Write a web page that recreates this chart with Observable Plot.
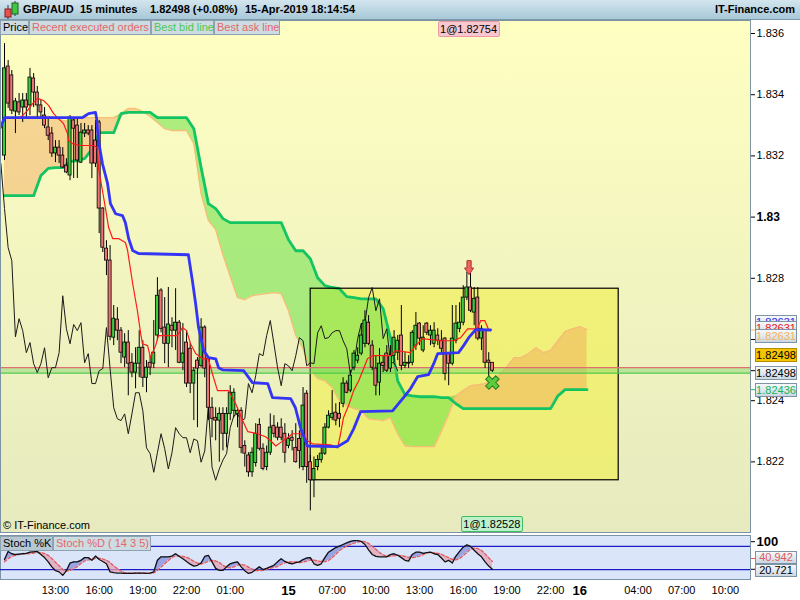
<!DOCTYPE html>
<html><head><meta charset="utf-8">
<script src="https://cdn.jsdelivr.net/npm/d3@7"></script>
<script src="https://cdn.jsdelivr.net/npm/@observablehq/plot@0.6"></script>
<style>
body{margin:0;width:800px;height:600px;overflow:hidden;background:#fff;font-family:"Liberation Sans",Arial,sans-serif;}
#wrap{position:relative;width:800px;height:600px;overflow:hidden;}
.abs{position:absolute;}
#header{left:0;top:0;width:800px;height:20px;background:linear-gradient(#d3e5ee,#a8c8d8);border-bottom:1px solid #7d98a8;box-sizing:border-box;font-weight:bold;font-size:11px;color:#000;}
#header span{position:absolute;top:3px;white-space:nowrap;}
#bg{left:0;top:20px;width:750px;height:512px;background:linear-gradient(#ffffc2,#e6eabe);}
.tab{position:absolute;top:20px;height:15px;box-sizing:border-box;border:1px solid #8ea3b0;background:#cddbe3;font-size:11px;line-height:13px;padding-left:2px;white-space:nowrap;}
.vbox{position:absolute;left:755px;width:42px;height:14px;box-sizing:border-box;border:1px solid #7d93a6;background:linear-gradient(#f7f9fc,#ccd7e3);font-size:11px;line-height:12px;text-align:center;white-space:nowrap;}
.olab{position:absolute;height:16px;box-sizing:border-box;font-size:11px;line-height:14px;text-align:center;border-radius:2px;white-space:nowrap;}
svg{position:absolute;}
</style></head>
<body><div id="wrap">
<div id="bg" class="abs"></div>
</div>
<script>
// ---------------- DATA ----------------
// 15-minute candles, GBP/AUD: [open, high, low, close]
const ohlc = [
[1.83201,1.83567,1.83185,1.83486],[1.83492,1.83512,1.83355,1.83371],[1.83463,1.83479,1.83335,1.83348],[1.83345,1.83388,1.83273,1.83378],[1.83375,1.83404,1.83332,1.83342],
[1.83358,1.83404,1.83309,1.83381],[1.83381,1.83404,1.83325,1.83358],[1.83365,1.83486,1.83332,1.83456],[1.83453,1.83469,1.83358,1.83407],[1.83407,1.83427,1.83325,1.83365],
[1.83365,1.83381,1.83322,1.83342],[1.83332,1.83358,1.83289,1.83299],[1.83293,1.83325,1.83250,1.83266],[1.83273,1.83293,1.83195,1.83208],[1.83208,1.83250,1.83178,1.83227],
[1.83227,1.83250,1.83175,1.83201],[1.83201,1.83227,1.83159,1.83162],[1.83168,1.83191,1.83142,1.83146],[1.83136,1.83332,1.83119,1.83325],[1.83316,1.83325,1.83126,1.83289],
[1.83299,1.83325,1.83126,1.83185],[1.83178,1.83306,1.83175,1.83276],[1.83273,1.83306,1.83260,1.83283],[1.83283,1.83299,1.83266,1.83273],[1.83283,1.83299,1.83126,1.83175],
[1.83250,1.83316,1.83162,1.83175],[1.83309,1.83316,1.82946,1.83028],[1.83028,1.83031,1.82884,1.82900],[1.82897,1.82923,1.82809,1.82858],[1.82858,1.82907,1.82596,1.82609],
[1.82606,1.82711,1.82580,1.82668],[1.82665,1.82704,1.82596,1.82629],[1.82629,1.82639,1.82521,1.82557],[1.82541,1.82619,1.82508,1.82590],[1.82590,1.82629,1.82416,1.82521],
[1.82524,1.82554,1.82475,1.82492],[1.82492,1.82573,1.82439,1.82521],[1.82521,1.82629,1.82475,1.82573],[1.82573,1.82596,1.82443,1.82475],[1.82475,1.82531,1.82426,1.82508],
[1.82524,1.82547,1.82482,1.82508],[1.82521,1.82662,1.82505,1.82557],[1.82613,1.82802,1.82596,1.82743],[1.82760,1.82766,1.82622,1.82635],[1.82639,1.82737,1.82521,1.82586],
[1.82586,1.82770,1.82508,1.82649],[1.82645,1.82671,1.82573,1.82629],[1.82629,1.82766,1.82564,1.82655],[1.82655,1.82662,1.82521,1.82524],[1.82524,1.82652,1.82498,1.82554],
[1.82590,1.82629,1.82443,1.82456],[1.82570,1.82586,1.82423,1.82456],[1.82456,1.82508,1.82335,1.82498],[1.82531,1.82541,1.82312,1.82505],[1.82514,1.82668,1.82508,1.82639],
[1.82639,1.82645,1.82475,1.82505],[1.82537,1.82541,1.82335,1.82377],[1.82377,1.82410,1.82279,1.82341],[1.82344,1.82377,1.82269,1.82335],[1.82335,1.82377,1.82199,1.82357],
[1.82357,1.82377,1.82236,1.82292],[1.82292,1.82377,1.82246,1.82357],[1.82357,1.82449,1.82335,1.82426],[1.82367,1.82439,1.82344,1.82426],[1.82357,1.82377,1.82312,1.82367],
[1.82367,1.82377,1.82227,1.82246],[1.82252,1.82269,1.82183,1.82227],[1.82221,1.82230,1.82150,1.82166],[1.82166,1.82246,1.82150,1.82230],[1.82196,1.82325,1.82183,1.82292],
[1.82321,1.82341,1.82236,1.82243],[1.82243,1.82259,1.82171,1.82177],[1.82183,1.82252,1.82171,1.82230],[1.82230,1.82357,1.82221,1.82312],[1.82318,1.82351,1.82279,1.82292],
[1.82312,1.82328,1.82269,1.82279],[1.82312,1.82341,1.82269,1.82279],[1.82292,1.82325,1.82196,1.82230],[1.82252,1.82292,1.82243,1.82275],[1.82279,1.82302,1.82236,1.82269],
[1.82246,1.82325,1.82196,1.82199],[1.82275,1.82302,1.82177,1.82236],[1.82183,1.82443,1.82171,1.82384],[1.82423,1.82433,1.82130,1.82183],[1.82199,1.82221,1.82040,1.82140],
[1.82140,1.82216,1.82083,1.82177],[1.82183,1.82221,1.82171,1.82206],[1.82206,1.82246,1.82196,1.82227],[1.82227,1.82325,1.82221,1.82312],[1.82312,1.82367,1.82308,1.82351],
[1.82344,1.82433,1.82335,1.82357],[1.82361,1.82390,1.82318,1.82335],[1.82357,1.82394,1.82312,1.82341],[1.82390,1.82475,1.82377,1.82456],[1.82456,1.82465,1.82423,1.82426],
[1.82433,1.82498,1.82426,1.82482],[1.82508,1.82564,1.82498,1.82554],[1.82531,1.82573,1.82521,1.82547],[1.82554,1.82652,1.82547,1.82613],[1.82586,1.82694,1.82573,1.82662],
[1.82655,1.82678,1.82580,1.82586],[1.82580,1.82596,1.82498,1.82508],[1.82505,1.82547,1.82416,1.82449],[1.82459,1.82570,1.82416,1.82521],[1.82524,1.82547,1.82492,1.82514],
[1.82554,1.82580,1.82492,1.82498],[1.82505,1.82580,1.82492,1.82547],[1.82547,1.82629,1.82524,1.82606],[1.82557,1.82613,1.82531,1.82596],[1.82613,1.82711,1.82498,1.82514],
[1.82514,1.82557,1.82505,1.82524],[1.82524,1.82547,1.82505,1.82521],[1.82524,1.82629,1.82514,1.82622],[1.82580,1.82688,1.82564,1.82645],[1.82652,1.82655,1.82580,1.82603],
[1.82564,1.82645,1.82557,1.82606],[1.82652,1.82655,1.82613,1.82622],[1.82613,1.82645,1.82580,1.82629],[1.82586,1.82655,1.82573,1.82629],[1.82613,1.82635,1.82580,1.82596],
[1.82596,1.82629,1.82557,1.82570],[1.82603,1.82606,1.82465,1.82488],[1.82554,1.82557,1.82449,1.82521],[1.82521,1.82711,1.82514,1.82603],[1.82596,1.82711,1.82586,1.82652],
[1.82635,1.82720,1.82622,1.82655],[1.82655,1.82776,1.82645,1.82737],[1.82737,1.82819,1.82727,1.82770],[1.82770,1.82825,1.82688,1.82694],[1.82688,1.82770,1.82645,1.82733],
[1.82737,1.82770,1.82596,1.82603],[1.82603,1.82645,1.82564,1.82635],[1.82629,1.82629,1.82505,1.82524],[1.82531,1.82557,1.82472,1.82524],[1.82524,1.82524,1.82492,1.82498]
];

// Tenkan-sen (red) vertices: [candle index, price]
const tenkan = [[0,1.83325],[4.4,1.83325],[6.3,1.83348],[7.7,1.83371],[9.1,1.83388],[10.7,1.83381],[12.1,1.83365],[13.5,1.83338],[14.8,1.83322],[16.2,1.83306],[17.3,1.83273],[17.6,1.83250],[18.7,1.83240],[20.9,1.83234],[24.5,1.83234],[25.5,1.83227],[25.8,1.83162],[26.9,1.83087],[27.7,1.83031],[28.6,1.82966],[29.7,1.82930],[31.3,1.82930],[33.2,1.82917],[33.8,1.82891],[35.2,1.82783],[36.5,1.82694],[37.4,1.82619],[37.9,1.82586],[39.3,1.82580],[40.1,1.82541],[41.5,1.82580],[42.3,1.82613],[47.5,1.82613],[48.9,1.82639],[50,1.82629],[51.1,1.82586],[52.5,1.82554],[54.4,1.82537],[56,1.82537],[57.1,1.82488],[58.5,1.82433],[61.5,1.82433],[63.5,1.82390],[65.4,1.82335],[66.8,1.82299],[69.5,1.82292],[71.7,1.82282],[73.1,1.82269],[74.5,1.82252],[75.8,1.82263],[77.7,1.82279],[79.1,1.82292],[81.3,1.82292],[83.2,1.82269],[84.6,1.82259],[89.6,1.82256],[91.5,1.82246],[92.3,1.82292],[93.1,1.82344],[94.5,1.82384],[95.9,1.82433],[97.3,1.82465],[98.4,1.82498],[99.7,1.82537],[101.1,1.82547],[106,1.82547],[107.4,1.82564],[111.5,1.82557],[112.9,1.82580],[114.8,1.82603],[119.8,1.82596],[123.4,1.82596],[125.3,1.82606],[127.2,1.82635],[129.9,1.82635],[130.8,1.82662],[131.9,1.82662],[133,1.82631]];

// Kijun-sen (blue) vertices
const kijun = [[-1.1,1.83293],[0,1.83325],[21.4,1.83325],[22.3,1.83332],[23.1,1.83338],[25,1.83342],[25.3,1.83322],[25.8,1.83250],[26.9,1.83175],[28.3,1.83110],[29.1,1.83044],[30.5,1.83011],[32.4,1.83005],[33.2,1.82982],[34.1,1.82930],[35.2,1.82891],[36.8,1.82881],[50.5,1.82877],[51.6,1.82793],[52.5,1.82717],[53.3,1.82639],[54.7,1.82564],[56,1.82541],[58,1.82537],[58.8,1.82508],[59.9,1.82501],[65.7,1.82498],[68.1,1.82459],[72.3,1.82456],[73.6,1.82410],[78.6,1.82407],[79.9,1.82377],[81.3,1.82312],[83.2,1.82252],[91.5,1.82250],[94.2,1.82269],[95.9,1.82308],[97.8,1.82364],[106.6,1.82367],[108,1.82387],[109.6,1.82410],[111.5,1.82439],[113.5,1.82479],[116.5,1.82485],[117.9,1.82521],[119,1.82554],[124.7,1.82557],[126.1,1.82580],[127.5,1.82606],[129.4,1.82632],[133.5,1.82631]];

// Senkou span A / B, read every 2 candles from index 0 to 160
const cloudStep = 2;
const senkouA = [1.83325,1.83325,1.83329,1.83329,1.83329,1.83329,1.83329,1.83322,1.83316,1.83312,1.83322,1.83325,1.83325,1.83325,1.83325,1.83325,1.83329,1.83355,1.83355,1.83345,1.83329,1.83309,1.83289,1.83283,1.83283,1.83283,1.83240,1.83077,1.82989,1.82959,1.82877,1.82806,1.82737,1.82730,1.82743,1.82747,1.82750,1.82753,1.82750,1.82694,1.82613,1.82570,1.82501,1.82472,1.82465,1.82443,1.82400,1.82384,1.82374,1.82367,1.82341,1.82338,1.82335,1.82344,1.82292,1.82252,1.82250,1.82250,1.82250,1.82250,1.82299,1.82354,1.82416,1.82433,1.82449,1.82452,1.82456,1.82465,1.82485,1.82511,1.82541,1.82541,1.82554,1.82573,1.82557,1.82564,1.82596,1.82626,1.82635,1.82642,1.82632];
const senkouB = [1.83070,1.83070,1.83070,1.83070,1.83070,1.83136,1.83159,1.83162,1.83162,1.83181,1.83185,1.83191,1.83221,1.83276,1.83276,1.83276,1.83338,1.83342,1.83342,1.83342,1.83342,1.83325,1.83325,1.83325,1.83325,1.83325,1.83289,1.83162,1.83044,1.83028,1.82995,1.82982,1.82982,1.82982,1.82982,1.82982,1.82982,1.82982,1.82982,1.82926,1.82890,1.82890,1.82864,1.82802,1.82776,1.82770,1.82766,1.82740,1.82737,1.82733,1.82733,1.82733,1.82701,1.82606,1.82465,1.82420,1.82416,1.82413,1.82413,1.82413,1.82410,1.82410,1.82390,1.82374,1.82374,1.82374,1.82374,1.82374,1.82374,1.82374,1.82374,1.82374,1.82374,1.82374,1.82374,1.82374,1.82416,1.82436,1.82436,1.82436,1.82436];

// Stochastic %K and %D (14 3 5)
const stochK = [46,67,61,59,60,61,62,65,66,67,59,51,40,27,17,14,5,17,37,40,40,44,51,51,44,55,46,41,35,14,12,11,11,10,10,10,11,11,11,10,11,14,44,53,53,53,55,61,54,48,41,34,29,31,37,54,57,40,23,18,18,27,35,38,40,27,17,10,13,20,27,20,23,27,31,40,48,41,37,35,38,40,46,50,51,35,31,35,51,65,71,77,81,85,89,93,95,95,93,85,71,59,54,53,53,53,59,61,57,51,44,42,59,65,65,62,64,65,61,59,50,40,44,37,55,67,78,84,80,70,61,53,40,29,20.721];
const stochD = [40,48,54,57,58.6,61.6,60.6,61.4,62.8,64.2,63.8,61.6,56.6,48.8,38.8,29.8,20.6,16,18,22.6,27.8,35.6,42.4,45.2,46,49,49.4,47.4,44.2,38.2,29.6,22.6,16.6,11.6,10.8,10.4,10.4,10.4,10.6,10.6,10.8,11.4,18,26.4,35,43.4,51.6,55,55.2,54.2,51.8,47.6,41.2,36.6,34.4,37,41.6,43.8,42.2,38.4,31.2,25.2,24.2,27.2,31.6,33.4,31.4,26.4,21.4,17.4,17.4,18,20.6,23.4,25.6,28.2,33.8,37.4,39.4,40.2,39.8,38.2,39.2,41.8,45,44.4,42.6,40.4,40.6,43.4,50.6,59.8,69,75.8,80.6,85,88.6,91.4,93,92.2,87.8,80.6,72.4,64.4,58,54.4,54.4,55.8,56.6,56.2,54.4,51,50.6,52.2,55,58.6,63,64.2,63.4,62.2,59.8,55,50.8,46,45.2,48.6,56.2,64.2,72.8,75.8,74.6,69.6,60.8,50.6,40.942];

// Time axis
const timeTicks = [14,26,38,50,62,78,90,102,114,126,138,150,158,174,186,198];
const timeLabels = ["13:00","16:00","19:00","22:00","01:00","15","07:00","10:00","13:00","16:00","19:00","22:00","16","04:00","07:00","10:00"];
const priceTicks = [1.822,1.824,1.826,1.828,1.83,1.832,1.834,1.836];

// Orders, trade range box, quotes
const orders = [{i:127.6, candle:128, price:1.82754, side:"sell"},{i:134, candle:134, price:1.82528, side:"buy"}];
const tradeBox = {i1:84.1, i2:168.7, lo:1.82140, hi:1.82766};
const quote = {ask:1.82508, bid:1.82490, last:1.82498};
const axisValues = [
  {v:1.82631, t:"1.82631", color:"#2b2be6", off:-14.5},
  {v:1.82631, t:"1.82631", color:"#e8201e", off:-8.5},
  {v:1.82631, t:"1.82631", color:"#f2b35a", off:-1},
  {v:1.82498, t:"1.82498", color:"#000", off:-22, bg:"#f6c400"},
  {v:1.82498, t:"1.82498", color:"#000", off:-4.5},
  {v:1.82436, t:"1.82436", color:"#13b55a", off:-6.5}
];
const stochValues = [{v:40.942, t:"40.942", color:"#e25a5a", off:-10},{v:20.721, t:"20.721", color:"#000", off:-5}];

// ---------------- BUILD ----------------
const FONT = '"Liberation Sans", Arial, sans-serif';
const xDomain = [-1.1, 204.9];
const candles = ohlc.map(([o,h,l,c], i) => ({i, o, h, l, c, up: c >= o}));
const chikou = candles.filter(d => d.i >= 25).map(d => ({i: d.i - 26, c: d.c}));
const cloud = senkouA.map((a, k) => ({i: k * cloudStep, a, b: senkouB[k]}));
const tk = tenkan.map(([i, v]) => ({i, v}));
const kj = kijun.map(([i, v]) => ({i, v}));
const stoch = stochK.map((k, i) => ({i, k, d: stochD[i]}));
const fmtP = d => String(+d.toFixed(3));

const arrowDown = {draw(ctx, size){ const r = Math.sqrt(size/Math.PI);
  ctx.moveTo(-0.3*r,-r); ctx.lineTo(0.3*r,-r); ctx.lineTo(0.3*r,0.05*r); ctx.lineTo(0.65*r,0.05*r);
  ctx.lineTo(0,r); ctx.lineTo(-0.65*r,0.05*r); ctx.lineTo(-0.3*r,0.05*r); ctx.closePath(); }};

const sell = orders.filter(o => o.side === "sell").map(o => ({...o, p: candles[o.candle].h}));
const buy = orders.filter(o => o.side === "buy").map(o => ({...o, p: candles[o.candle].l}));

const main = Plot.plot({
  width: 800, height: 512, marginLeft: 0, marginRight: 50, marginTop: 0, marginBottom: 0,
  x: {domain: xDomain, axis: null},
  y: {domain: [1.819693, 1.836425]},
  style: {background: "transparent", fontFamily: FONT, fontSize: "11px", color: "#000", overflow: "visible"},
  marks: [
    Plot.rect([tradeBox], {x1: "i1", x2: "i2", y1: "lo", y2: "hi", fill: "#f0ee40", fillOpacity: 0.55}),
    Plot.areaY(cloud, {x: "i", y1: "b", y2: d => Math.max(d.a, d.b), fill: "#f0a050", fillOpacity: 0.42}),
    Plot.areaY(cloud, {x: "i", y1: "a", y2: d => Math.max(d.a, d.b), fill: "#5fe03c", fillOpacity: 0.5}),
    Plot.line(cloud, {x: "i", y: "a", stroke: "#f7bd78", strokeWidth: 1.3}),
    Plot.line(cloud, {x: "i", y: "b", stroke: "#14c463", strokeWidth: 2.8}),
    Plot.rect([tradeBox], {x1: "i1", x2: "i2", y1: "lo", y2: "hi", fill: "none", stroke: "#000", strokeWidth: 1.2}),
    Plot.rect([quote], {y1: "bid", y2: "ask", fill: "#7fd86a", fillOpacity: 0.45}),
    Plot.ruleY([quote.ask], {stroke: "#e07070", strokeWidth: 1.2}),
    Plot.ruleY([quote.bid], {stroke: "#4cc84c", strokeWidth: 1.2}),
    Plot.line(chikou, {x: "i", y: "c", stroke: "#1a1a1a", strokeWidth: 1}),
    Plot.ruleX(candles, {x: "i", y1: "l", y2: "h", stroke: "#000", strokeWidth: 1}),
    Plot.rect(candles, {x1: d => d.i - 0.42, x2: d => d.i + 0.42, y1: "o", y2: "c",
      fill: d => d.up ? "#3ccc3c" : "#ec7474", stroke: "#000", strokeWidth: 0.8}),
    Plot.line(tk, {x: "i", y: "v", stroke: "#ff1a1a", strokeWidth: 1.2}),
    Plot.line(kj, {x: "i", y: "v", stroke: "#3434f4", strokeWidth: 2.8}),
    Plot.dot(sell, {x: "i", y: "p", symbol: arrowDown, r: 7, dy: -3, fill: "#f06262", stroke: "#b03232", strokeWidth: 1}),
    Plot.dot(buy, {x: "i", y: "p", symbol: d3.symbolCross, r: 6, rotate: 45, dy: 10, fill: "#5ccc3c", stroke: "#2a7a2a", strokeWidth: 1}),
    Plot.frame({stroke: "#7d93a3"}),
    Plot.axisY({anchor: "right", ticks: priceTicks.filter(t => t !== 1.83), tickSize: 4, tickPadding: 2, tickFormat: fmtP, fontSize: 11, label: null}),
    Plot.axisY({anchor: "right", ticks: [1.83], tickSize: 4, tickPadding: 2, tickFormat: fmtP, fontSize: 12, fontWeight: "bold", label: null}),
    Plot.axisY({anchor: "right", ticks: [1.82631], tickSize: 5, stroke: "#f2b35a", tickFormat: () => "", label: null}),
    Plot.axisY({anchor: "right", ticks: [1.82498], tickSize: 5, stroke: "#000", tickFormat: () => "", label: null}),
    Plot.axisY({anchor: "right", ticks: [1.82436], tickSize: 5, stroke: "#13b55a", tickFormat: () => "", label: null})
  ]
});
main.style.left = "0px"; main.style.top = "20px";

const st = Plot.plot({
  width: 800, height: 68, marginLeft: 0, marginRight: 50, marginTop: 3, marginBottom: 21,
  x: {domain: xDomain},
  y: {domain: [-5.75, 108.3]},
  style: {background: "transparent", fontFamily: FONT, fontSize: "11px", color: "#000", overflow: "visible"},
  marks: [
    Plot.frame({fill: "#dbe5fa", stroke: "#7d93a3"}),
    Plot.ruleY([20, 80], {stroke: "#1c1cc4", strokeWidth: 1.2}),
    Plot.areaY(stoch, {x: "i", y1: "d", y2: d => Math.max(d.k, d.d), fill: "#6b78d6", fillOpacity: 0.6}),
    Plot.areaY(stoch, {x: "i", y1: "k", y2: d => Math.max(d.k, d.d), fill: "#e4a0b4", fillOpacity: 0.75}),
    Plot.line(stoch, {x: "i", y: "d", stroke: "#e45a5a", strokeWidth: 1.3, strokeDasharray: "3,2"}),
    Plot.line(stoch, {x: "i", y: "k", stroke: "#111", strokeWidth: 1.3}),
    Plot.axisX({anchor: "bottom", ticks: timeTicks.filter((t, k) => timeLabels[k].includes(":")), tickSize: 0, tickPadding: 7,
      tickFormat: d => timeLabels[timeTicks.indexOf(d)], fontSize: 11, label: null}),
    Plot.axisX({anchor: "bottom", ticks: timeTicks.filter((t, k) => !timeLabels[k].includes(":")), tickSize: 0, tickPadding: 6,
      tickFormat: d => timeLabels[timeTicks.indexOf(d)], fontSize: 13, fontWeight: "bold", label: null}),
    Plot.axisY({anchor: "right", ticks: [100], tickSize: 4, tickPadding: 2, tickFormat: () => "100", fontSize: 13, fontWeight: "bold", dy: 3, label: null}),
    Plot.axisY({anchor: "right", ticks: [stochValues[0].v], tickSize: 5, stroke: "#e25a5a", tickFormat: () => "", dy: -3, label: null}),
    Plot.axisY({anchor: "right", ticks: [stochValues[1].v], tickSize: 5, stroke: "#000", tickFormat: () => "", label: null})
  ]
});
st.style.left = "0px"; st.style.top = "532px";

const wrap = document.getElementById("wrap");
wrap.appendChild(main);
wrap.appendChild(st);

function el(tag, cls, css, text){ const e = document.createElement(tag); if (cls) e.className = cls; Object.assign(e.style, css || {}); if (text != null) e.textContent = text; wrap.appendChild(e); return e; }

// header
const header = el("div", "abs", {}); header.id = "header";
header.innerHTML = '<svg width="18" height="18" style="left:2px;top:1px"><line x1="6" y1="4" x2="6" y2="18" stroke="#333"/><rect x="3" y="8" width="6" height="8" fill="#e85050" stroke="#802020"/><line x1="13" y1="0" x2="13" y2="15" stroke="#333"/><rect x="10" y="2" width="6" height="11" fill="#40c840" stroke="#206020"/></svg>' +
  '<span style="left:23px">GBP/AUD</span><span style="left:80px">15 minutes</span><span style="left:150px">1.82498 (+0.08%)</span><span style="left:245px">15-Apr-2019 18:14:54</span><span style="right:5px">IT-Finance.com</span>';

// legend tabs
[["Price", 0, 29, "#000"], ["Recent executed orders", 29, 122, "#e46868"], ["Best bid line", 151, 63, "#4ec84e"], ["Best ask line", 214, 66, "#e46868"]]
  .forEach(([t, l, w, c]) => el("div", "tab", {left: l + "px", width: w + "px", color: c}, t));

el("div", "abs", {left: "3px", top: "519px", fontSize: "11px"}, "© IT-Finance.com");

// order labels
const xs = main.scale("x"), ys = main.scale("y"), ss = st.scale("y");
orders.forEach(o => {
  const cx = xs.apply(o.i);
  const sellSide = o.side === "sell";
  el("div", "olab", {left: (cx - 31) + "px", width: "62px", top: sellSide ? "21px" : "516px",
    background: sellSide ? "#f9c7cf" : "#bff0ca", border: "1px solid " + (sellSide ? "#e99aa5" : "#3cc060")}, "1@" + o.price);
});

// right axis value boxes
axisValues.forEach(d => {
  const top = 20 + ys.apply(d.v) + d.off;
  const css = {top: top + "px", color: d.color};
  if (d.bg) { css.background = d.bg; css.borderColor = "#b48c00"; }
  el("div", "vbox", css, d.t);
});
stochValues.forEach(d => {
  const top = 532 + ss.apply(d.v) + d.off;
  el("div", "vbox", {top: top + "px", color: d.color, height: "13px", lineHeight: "11px"}, d.t);
});

// stoch tabs
el("div", "tab", {top: "536px", left: "0px", width: "53px", background: "#b7c8d3"}, "Stoch %K");
el("div", "tab", {top: "536px", left: "53px", width: "98px", color: "#e46868"}, "Stoch %D ( 14 3 5)");
</script>
</body></html>
